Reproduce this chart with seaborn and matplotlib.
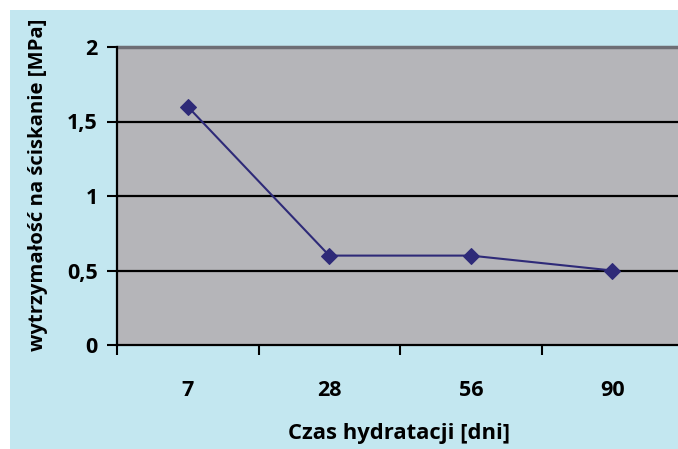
import matplotlib
matplotlib.use("Agg")
import matplotlib.pyplot as plt
import seaborn as sns
import pandas as pd
from matplotlib.patches import Rectangle

days = ["7", "28", "56", "90"]
strength = [1.6, 0.6, 0.6, 0.5]
y_ticks = [0, 0.5, 1, 1.5, 2]
y_tick_labels = ["0", "0,5", "1", "1,5", "2"]

sns.set_style("white")
plt.rcParams['font.family'] = ['Open Sans', 'DejaVu Sans']
plt.rcParams['text.color'] = 'black'
plt.rcParams['xtick.color'] = 'black'
plt.rcParams['ytick.color'] = 'black'

W, H = 678, 449
fig = plt.figure(figsize=(W / 100, H / 100), dpi=100)
fig.patch.set_facecolor("white")
fig.patches.append(Rectangle((10 / W, 0), 1, 1 - 10 / H, transform=fig.transFigure,
                             facecolor="#c3e7f0", edgecolor="none", zorder=-10))

left, right, top, bottom = 117, 683, 47, 345
ax = fig.add_axes([left / W, 1 - bottom / H, (right - left) / W, (bottom - top) / H])
ax.set_facecolor("#b5b5b9")

df = pd.DataFrame({"day": days, "val": strength})
sns.lineplot(data=df, x="day", y="val", ax=ax, sort=False, color="#2e2a78",
             marker="D", markersize=8, markeredgecolor="#2e2a78", linewidth=1.5, zorder=5)

ax.set_xlim(-0.5, 3.5)
ax.set_ylim(0, 2)
ax.set_yticks(y_ticks)
ax.set_yticklabels(y_tick_labels)
for yv in y_ticks[1:-1]:
    ax.axhline(yv, color="black", linewidth=1.6, zorder=1)
ax.axhline(2, color="#6e6e74", linewidth=2.5, zorder=1, clip_on=False)

ax.set_xticks(range(len(days)))
ax.set_xticklabels(days)
ax.set_xticks([-0.5, 0.5, 1.5, 2.5, 3.5], minor=True)
ax.tick_params(axis="x", which="major", length=0, pad=25, labelsize=15.5, labelcolor="black")
ax.tick_params(axis="x", which="minor", length=7, width=1.5, direction="out", color="black", bottom=True)
ax.tick_params(axis="y", length=7, width=1.5, direction="out", color="black", left=True,
               labelsize=15.5, pad=7, labelcolor="black")
for lab in ax.get_xticklabels() + ax.get_yticklabels():
    lab.set_fontweight("bold")

for s in ["top", "right"]:
    ax.spines[s].set_visible(False)
for s in ["left", "bottom"]:
    ax.spines[s].set_color("black")
    ax.spines[s].set_linewidth(1.6)

ax.set_xlabel("")
ax.set_ylabel("")
fig.text(399 / W, 1 - 433 / H, "Czas hydratacji [dni]", ha="center", va="center",
         fontsize=15.8, fontweight="bold", color="black")
fig.text(38 / W, 1 - 185 / H, "wytrzymałość na ściskanie [MPa]", ha="center", va="center",
         rotation=90, fontsize=14.6, fontweight="bold", color="black")

fig.savefig("out.png", dpi=100)
